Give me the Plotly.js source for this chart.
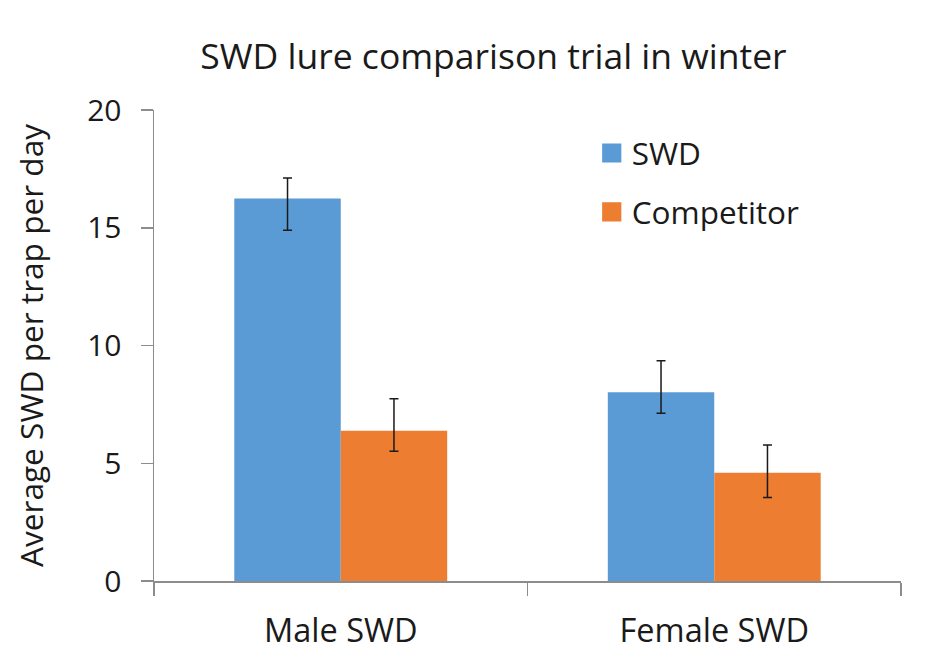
<!DOCTYPE html>
<html>
<head>
<meta charset="utf-8">
<script src="https://cdn.plot.ly/plotly-3.0.1.min.js"></script>
<style>html,body{margin:0;padding:0;background:#fff;}#chart{width:931px;height:664px;}</style>
</head>
<body>
<div id="chart"></div>
<script>
var categories = ["Male SWD", "Female SWD"];
var seriesNames = ["SWD", "Competitor"];
var swdValues = [16.24, 8.02];
var swdErrPlus = [0.87, 1.33];
var swdErrMinus = [1.35, 0.90];
var compValues = [6.38, 4.60];
var compErrPlus = [1.36, 1.17];
var compErrMinus = [0.87, 1.05];
var yTicks = [0, 5, 10, 15, 20];

var FONT = "Open Sans, sans-serif";
var errStyle = function (plus, minus) {
  return {type: "data", symmetric: false, array: plus, arrayminus: minus,
          color: "#1a1a1a", thickness: 1.5, width: 4.5};
};

var traces = [
  {type: "bar", name: seriesNames[0], x: categories, y: swdValues,
   marker: {color: "#5B9BD5"}, legendgroup: "a",
   error_y: errStyle(swdErrPlus, swdErrMinus)},
  {type: "bar", name: seriesNames[1], x: categories, y: compValues,
   marker: {color: "#ED7D31"}, legendgroup: "b",
   error_y: errStyle(compErrPlus, compErrMinus)}
];

var layout = {
  width: 931, height: 664,
  margin: {l: 154, r: 30, t: 110, b: 83},
  paper_bgcolor: "#fff", plot_bgcolor: "#fff",
  font: {family: FONT, color: "#1a1a1a", size: 32},
  title: {text: "SWD lure comparison trial in winter", x: 0.53, xanchor: "center",
          y: 0.915, yanchor: "middle", font: {family: FONT, size: 35.5, color: "#1a1a1a"}},
  barmode: "group",
  bargap: 0.43,
  bargroupgap: 0,
  showlegend: true,
  legend: {x: 0.586, y: 0.966, xanchor: "left", yanchor: "top",
           bgcolor: "rgba(0,0,0,0)", font: {size: 31.5, family: FONT},
           traceorder: "grouped", tracegroupgap: 15, itemwidth: 30},
  xaxis: {type: "category", showline: true, linecolor: "#8c8c8c", linewidth: 1.5,
          ticks: "outside", tickson: "boundaries", ticklen: 13, tickcolor: "#8c8c8c",
          tickwidth: 1.5, showgrid: false, zeroline: false,
          tickfont: {size: 32.5, family: FONT}, ticklabelstandoff: 20},
  yaxis: {range: [0, 20], tickvals: yTicks, showline: true, linecolor: "#8c8c8c",
          linewidth: 1.5, ticks: "outside", ticklen: 12, tickcolor: "#8c8c8c",
          tickwidth: 1.5, showgrid: false, zeroline: false,
          tickfont: {size: 30, family: FONT}, ticklabelstandoff: 13,
          title: {text: "Average SWD per trap per day", font: {size: 31.6, family: FONT}, standoff: 34}}
};

Plotly.newPlot("chart", traces, layout, {displayModeBar: false, staticPlot: true}).then(function (gd) {
  var pts = gd.querySelectorAll(".legend .legendpoints path");
  pts.forEach(function (p) {
    var t = p.getAttribute("transform") || "";
    p.setAttribute("transform", t + " scale(1.6)");
  });
});
</script>
</body>
</html>
